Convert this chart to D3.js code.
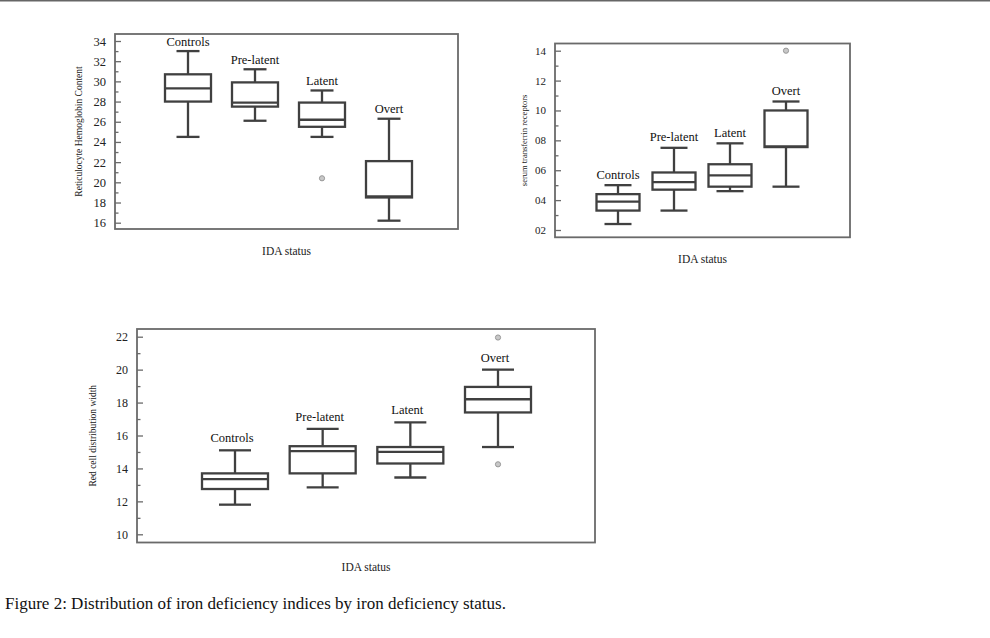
<!DOCTYPE html>
<html>
<head>
<meta charset="utf-8">
<script src="https://cdn.jsdelivr.net/npm/d3@7"></script>
<style>
  html, body { margin: 0; padding: 0; background: #fff; }
  svg { display: block; font-family: "Liberation Serif", "DejaVu Serif", serif; }
</style>
</head>
<body>
<svg id="chart" width="990" height="638"></svg>
<script>
// Figure 2: iron deficiency indices by IDA status — three box plots

var CATEGORIES = ['Controls', 'Pre-latent', 'Latent', 'Overt'];

// Reticulocyte hemoglobin content
var CHR_LOW = [24.5, 26.1, 24.5, 16.2];
var CHR_Q1 = [28.0, 27.5, 25.5, 18.5];
var CHR_MEDIAN = [29.3, 27.9, 26.2, 18.6];
var CHR_Q3 = [30.7, 29.9, 27.9, 22.1];
var CHR_HIGH = [33.0, 31.2, 29.1, 26.3];
var CHR_OUTLIERS = [[], [], [20.4], []];
var CHR_TICKS = [16, 18, 20, 22, 24, 26, 28, 30, 32, 34];
var CHR_TICK_LABELS = ['16', '18', '20', '22', '24', '26', '28', '30', '32', '34'];

// Serum transferrin receptors
var STFR_LOW = [2.4, 3.3, 4.6, 4.9];
var STFR_Q1 = [3.3, 4.7, 4.9, 7.55];
var STFR_MEDIAN = [3.9, 5.2, 5.65, 7.6];
var STFR_Q3 = [4.4, 5.85, 6.4, 10.0];
var STFR_HIGH = [5.0, 7.5, 7.8, 10.6];
var STFR_OUTLIERS = [[], [], [], [14.0]];
var STFR_TICKS = [2, 4, 6, 8, 10, 12, 14];
var STFR_TICK_LABELS = ['02', '04', '06', '08', '10', '12', '14'];

// Red cell distribution width
var RDW_LOW = [11.8, 12.85, 13.45, 15.3];
var RDW_Q1 = [12.75, 13.7, 14.3, 17.4];
var RDW_MEDIAN = [13.35, 15.05, 15.0, 18.2];
var RDW_Q3 = [13.7, 15.35, 15.3, 18.95];
var RDW_HIGH = [15.1, 16.4, 16.8, 20.0];
var RDW_OUTLIERS = [[], [], [], [21.95, 14.25]];
var RDW_TICKS = [10, 12, 14, 16, 18, 20, 22];
var RDW_TICK_LABELS = ['10', '12', '14', '16', '18', '20', '22'];

var CAPTION = 'Figure 2: Distribution of iron deficiency indices by iron deficiency status.';

// ============================================================================
// PANEL LAYOUT
// ============================================================================

var PANELS = [
    {
        low: CHR_LOW, q1: CHR_Q1, median: CHR_MEDIAN, q3: CHR_Q3, high: CHR_HIGH,
        outliers: CHR_OUTLIERS, ticks: CHR_TICKS, tickLabels: CHR_TICK_LABELS,
        yTitle: 'Reticulocyte Hemoglobin Content',
        frame: { x0: 115, x1: 458, y0: 34, y1: 229 },
        yDomain: [16, 34], yRange: [222.7, 41],
        xRange: [188, 389], boxW: 46, capW: 23,
        labelGap: 5.5, labelDx: 0, tickFont: 12.5,
        yTitleX: 82, yTitleFont: 9.5, xTitleY: 255
    },
    {
        low: STFR_LOW, q1: STFR_Q1, median: STFR_MEDIAN, q3: STFR_Q3, high: STFR_HIGH,
        outliers: STFR_OUTLIERS, ticks: STFR_TICKS, tickLabels: STFR_TICK_LABELS,
        yTitle: 'serum transferrin receptors',
        frame: { x0: 555, x1: 850, y0: 43.5, y1: 237.3 },
        yDomain: [2, 14], yRange: [230, 50.7],
        xRange: [618, 786], boxW: 43, capW: 27,
        labelGap: 6.5, labelDx: 0, tickFont: 11,
        yTitleX: 527, yTitleFont: 8.5, xTitleY: 263
    },
    {
        low: RDW_LOW, q1: RDW_Q1, median: RDW_MEDIAN, q3: RDW_Q3, high: RDW_HIGH,
        outliers: RDW_OUTLIERS, ticks: RDW_TICKS, tickLabels: RDW_TICK_LABELS,
        yTitle: 'Red cell distribution width',
        frame: { x0: 137, x1: 595, y0: 329, y1: 542.5 },
        yDomain: [10, 22], yRange: [534.3, 336.7],
        xRange: [235, 498], boxW: 66, capW: 32,
        labelGap: 8, labelDx: -3, tickFont: 12,
        yTitleX: 96, yTitleFont: 9.5, xTitleY: 571
    }
];

var FRAME_COLOR = '#6a6a6a';
var BOX_COLOR = '#404040';

// ============================================================================
// D3 RENDERING
// ============================================================================

var svg = d3.select('#chart');

// thin rule across the very top of the page
svg.append('line')
    .attr('x1', 0).attr('x2', 990)
    .attr('y1', 0.8).attr('y2', 0.8)
    .attr('stroke', '#666').attr('stroke-width', 1.6);

PANELS.forEach(drawPanel);

svg.append('text')
    .attr('x', 5)
    .attr('y', 609)
    .attr('font-size', 17)
    .attr('fill', '#111')
    .text(CAPTION);

function drawPanel(p) {
    var g = svg.append('g');
    var f = p.frame;

    var x = d3.scalePoint().domain(CATEGORIES).range(p.xRange);
    var y = d3.scaleLinear().domain(p.yDomain).range(p.yRange);

    // Frame
    g.append('rect')
        .attr('x', f.x0).attr('y', f.y0)
        .attr('width', f.x1 - f.x0).attr('height', f.y1 - f.y0)
        .attr('fill', 'none')
        .attr('stroke', FRAME_COLOR)
        .attr('stroke-width', 1.8);

    // Minor ticks (inward, half step)
    var step = p.ticks[1] - p.ticks[0];
    var minor = p.ticks.slice(0, -1).map(function(t) { return t + step / 2; });
    g.append('g')
        .attr('transform', 'translate(' + f.x0 + ',0)')
        .call(d3.axisRight(y).tickValues(minor).tickSize(3.5).tickFormat(''))
        .call(function(a) {
            a.select('.domain').remove();
            a.selectAll('line').attr('stroke', FRAME_COLOR).attr('stroke-width', 1.3);
        });

    // Major ticks + labels
    var yAxis = d3.axisLeft(y)
        .tickValues(p.ticks)
        .tickSizeInner(-6)
        .tickSizeOuter(0)
        .tickPadding(9)
        .tickFormat(function(d, i) { return p.tickLabels[i]; });
    g.append('g')
        .attr('transform', 'translate(' + f.x0 + ',0)')
        .call(yAxis)
        .call(function(a) {
            a.select('.domain').remove();
            a.selectAll('line').attr('stroke', FRAME_COLOR).attr('stroke-width', 1.3);
            a.selectAll('text')
                .attr('font-family', '"Liberation Serif", serif')
                .attr('font-size', p.tickFont)
                .attr('fill', '#222');
        });

    // Boxes
    var rows = CATEGORIES.map(function(c, i) {
        return {
            cat: c, low: p.low[i], q1: p.q1[i], median: p.median[i],
            q3: p.q3[i], high: p.high[i], outliers: p.outliers[i]
        };
    });

    var box = g.selectAll('g.box')
        .data(rows)
        .join('g')
        .attr('class', 'box')
        .attr('stroke', BOX_COLOR)
        .attr('stroke-width', 2.3)
        .attr('fill', 'none');

    // whiskers
    box.append('line')
        .attr('x1', function(d) { return x(d.cat); })
        .attr('x2', function(d) { return x(d.cat); })
        .attr('y1', function(d) { return y(d.high); })
        .attr('y2', function(d) { return y(d.q3); });
    box.append('line')
        .attr('x1', function(d) { return x(d.cat); })
        .attr('x2', function(d) { return x(d.cat); })
        .attr('y1', function(d) { return y(d.q1); })
        .attr('y2', function(d) { return y(d.low); });

    // caps
    ['high', 'low'].forEach(function(key) {
        box.append('line')
            .attr('x1', function(d) { return x(d.cat) - p.capW / 2; })
            .attr('x2', function(d) { return x(d.cat) + p.capW / 2; })
            .attr('y1', function(d) { return y(d[key]); })
            .attr('y2', function(d) { return y(d[key]); });
    });

    // box body
    box.append('rect')
        .attr('x', function(d) { return x(d.cat) - p.boxW / 2; })
        .attr('width', p.boxW)
        .attr('y', function(d) { return y(d.q3); })
        .attr('height', function(d) { return y(d.q1) - y(d.q3); })
        .attr('fill', '#fff');

    // median
    box.append('line')
        .attr('x1', function(d) { return x(d.cat) - p.boxW / 2; })
        .attr('x2', function(d) { return x(d.cat) + p.boxW / 2; })
        .attr('y1', function(d) { return y(d.median); })
        .attr('y2', function(d) { return y(d.median); });

    // outliers
    box.selectAll('circle')
        .data(function(d) { return d.outliers.map(function(v) { return { cat: d.cat, v: v }; }); })
        .join('circle')
        .attr('cx', function(d) { return x(d.cat); })
        .attr('cy', function(d) { return y(d.v); })
        .attr('r', 2.6)
        .attr('fill', '#c8c8c8')
        .attr('stroke', '#999')
        .attr('stroke-width', 1);

    // category labels above the top whisker
    g.selectAll('text.cat')
        .data(rows)
        .join('text')
        .attr('class', 'cat')
        .attr('x', function(d) { return x(d.cat) + p.labelDx; })
        .attr('y', function(d) { return y(d.high) - p.labelGap; })
        .attr('text-anchor', 'middle')
        .attr('font-size', 12.5)
        .attr('fill', '#111')
        .text(function(d) { return d.cat; });

    // axis titles
    g.append('text')
        .attr('transform', 'translate(' + p.yTitleX + ',' + ((f.y0 + f.y1) / 2) + ') rotate(-90)')
        .attr('text-anchor', 'middle')
        .attr('font-size', p.yTitleFont)
        .attr('fill', '#222')
        .text(p.yTitle);

    g.append('text')
        .attr('x', (f.x0 + f.x1) / 2)
        .attr('y', p.xTitleY)
        .attr('text-anchor', 'middle')
        .attr('font-size', 11.5)
        .attr('fill', '#222')
        .text('IDA status');
}
</script>
</body>
</html>
